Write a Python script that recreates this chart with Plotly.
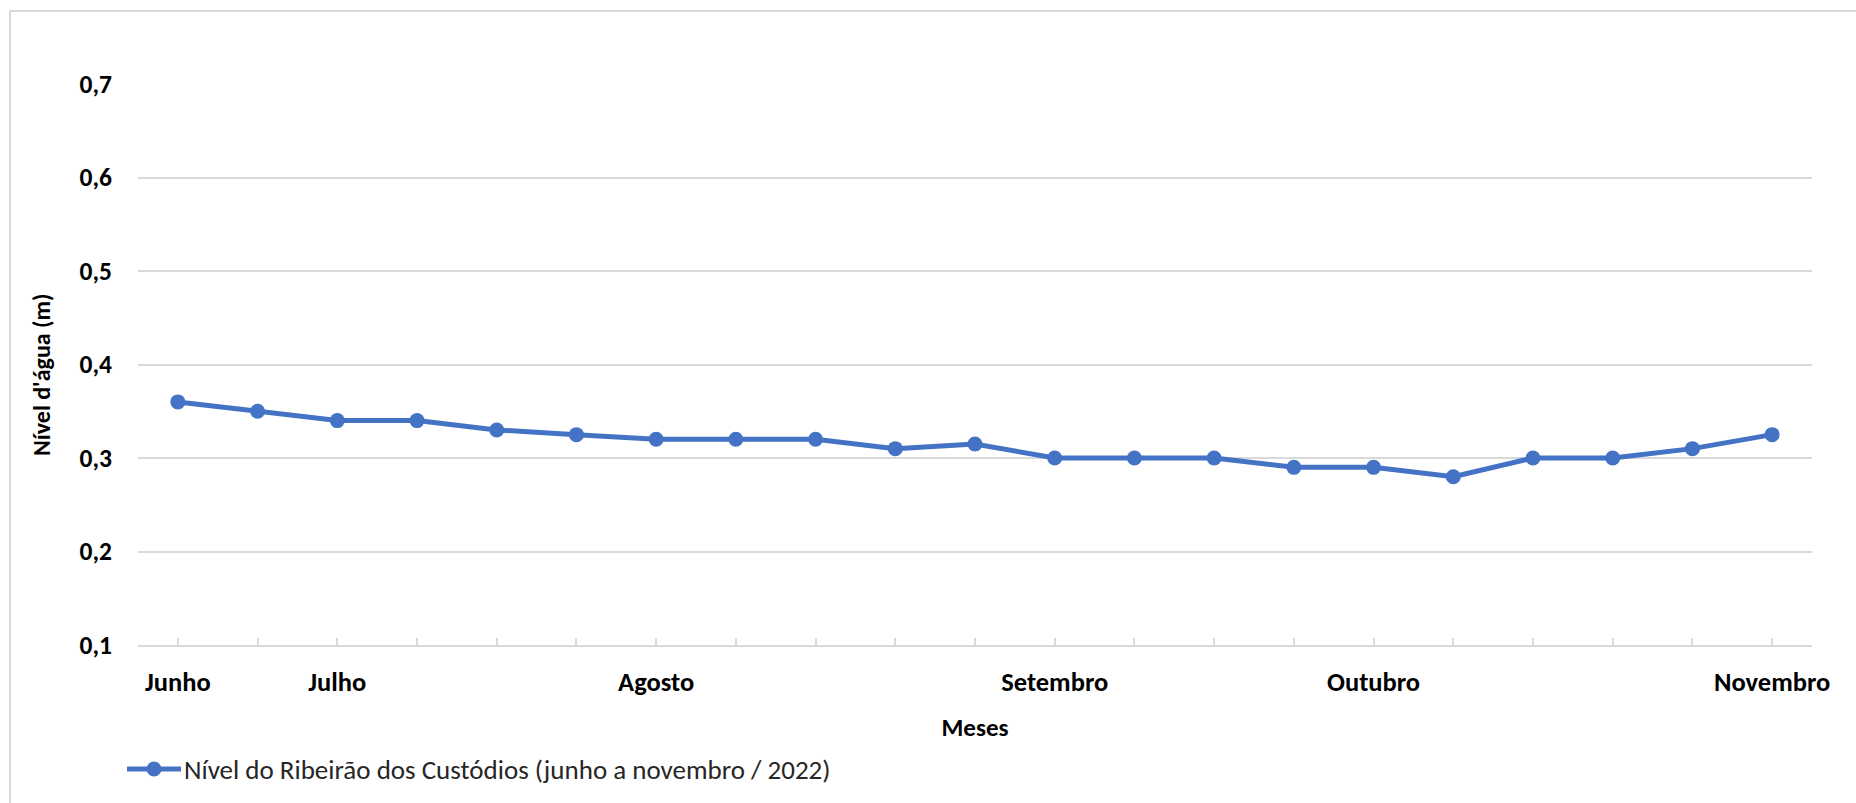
import plotly.graph_objects as go

# Water level readings, roughly weekly, June to November 2022
levels = [0.36, 0.35, 0.34, 0.34, 0.33, 0.325, 0.32, 0.32, 0.32, 0.31, 0.315,
          0.30, 0.30, 0.30, 0.29, 0.29, 0.28, 0.30, 0.30, 0.31, 0.325]
positions = list(range(len(levels)))

# Month labels and the reading they sit under
month_labels = ["Junho", "Julho", "Agosto", "Setembro", "Outubro", "Novembro"]
month_index = [0, 2, 6, 11, 15, 20]

y_ticks = [0.1, 0.2, 0.3, 0.4, 0.5, 0.6, 0.7]

series_name = "Nível do Ribeirão dos Custódios (junho a novembro / 2022)"
x_title = "Meses"
y_title = "Nível d'água (m)"

FONT = "Carlito, Lato, sans-serif"
BLUE = "#4472C4"
GRID = "#D9D9D9"

W, H = 1856, 803
L, R, T, B = 138, 44, 84, 158
plot_w = W - L - R
plot_h = H - T - B


def px_x(px):
    """Pixel column -> paper x."""
    return (px - L) / plot_w


def px_y(py):
    """Pixel row (from top) -> paper y."""
    return (H - B - py) / plot_h


# Tick marks at every reading plus one closing the axis at the right edge
tickvals = positions + [len(levels) - 0.5]
ticktext = []
for i in tickvals:
    if i in month_index:
        ticktext.append(month_labels[month_index.index(i)])
    else:
        ticktext.append("")

fig = go.Figure()
fig.add_trace(go.Scatter(
    x=positions, y=levels, mode="lines+markers", name=series_name,
    line=dict(color=BLUE, width=5),
    marker=dict(color=BLUE, size=15),
    cliponaxis=False, showlegend=False,
))

# Chart frame (top and left edges)
fig.add_shape(type="line", xref="paper", yref="paper",
              x0=px_x(10), x1=px_x(W + 5), y0=px_y(11), y1=px_y(11),
              line=dict(color=GRID, width=2))
fig.add_shape(type="line", xref="paper", yref="paper",
              x0=px_x(10), x1=px_x(10), y0=px_y(11), y1=px_y(H + 5),
              line=dict(color=GRID, width=2))

# Legend entry: line sample with a centred marker, then the series name
leg_y = 769
fig.add_shape(type="line", xref="paper", yref="paper",
              x0=px_x(127), x1=px_x(181), y0=px_y(leg_y), y1=px_y(leg_y),
              line=dict(color=BLUE, width=5))
fig.add_shape(type="circle", xref="paper", yref="paper",
              xsizemode="pixel", ysizemode="pixel",
              xanchor=px_x(154), yanchor=px_y(leg_y),
              x0=-7.5, x1=7.5, y0=-7.5, y1=7.5,
              fillcolor=BLUE, line=dict(color=BLUE, width=0))
fig.add_annotation(text=series_name, xref="paper", yref="paper",
                   x=px_x(182), y=px_y(leg_y), xanchor="left", yanchor="middle",
                   showarrow=False,
                   font=dict(family=FONT, size=27, color="#262626"))

# Vertical axis title
fig.add_annotation(text=y_title, xref="paper", yref="paper",
                   x=px_x(41), y=px_y(375), xanchor="center", yanchor="middle",
                   textangle=-90, showarrow=False,
                   font=dict(family=FONT, size=24, color="black", weight="bold"))

fig.update_layout(
    width=W, height=H,
    margin=dict(l=L, r=R, t=T, b=B, pad=0),
    paper_bgcolor="white", plot_bgcolor="white",
    separators=", ",
    font=dict(family=FONT, color="black"),
    showlegend=False,
    xaxis=dict(
        range=[-0.5, len(levels) - 0.5],
        tickmode="array", tickvals=tickvals, ticktext=ticktext,
        ticks="inside", ticklen=7, tickcolor=GRID, tickwidth=1.5,
        showline=True, linecolor=GRID, linewidth=2,
        showgrid=False, zeroline=False,
        tickfont=dict(family=FONT, size=26.5, color="black", weight="bold"),
        ticklabelstandoff=12,
        title=dict(text=x_title, standoff=22,
                   font=dict(family=FONT, size=25, color="black", weight="bold")),
    ),
    yaxis=dict(
        range=[0.1, 0.7],
        tickmode="array", tickvals=y_ticks,
        tickformat=".1f",
        showgrid=True, gridcolor=GRID, gridwidth=1.5,
        zeroline=False, showline=False, ticks="",
        tickfont=dict(family=FONT, size=25.5, color="black", weight="bold"),
        ticklabelstandoff=25,
    ),
)

fig.write_html("out.html")
